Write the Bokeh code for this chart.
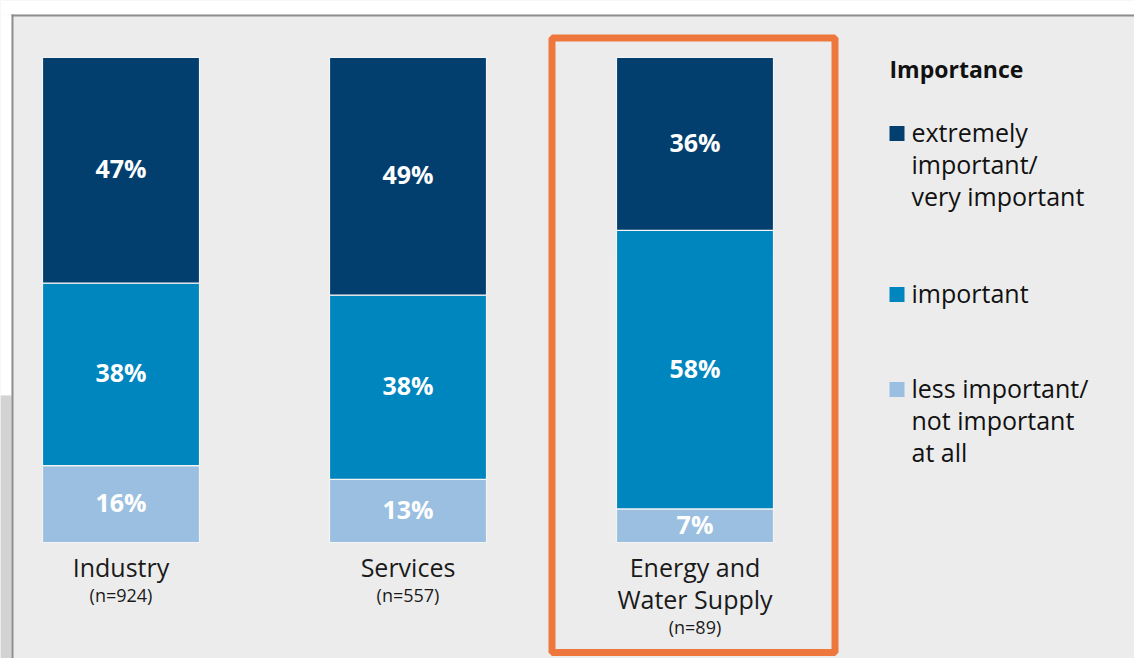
from bokeh.plotting import figure
from bokeh.models import Range1d, ColumnDataSource
from bokeh.core.properties import value
from bokeh.embed import file_html
from bokeh.resources import INLINE

# ---- data ----
categories = ["Industry", "Services", "Energy and\nWater Supply"]
sample_n = [924, 557, 89]
series_names = ["extremely\nimportant/\nvery important", "important", "less important/\nnot important\nat all"]
extremely = [47, 49, 36]
important = [38, 38, 58]
less = [16, 13, 7]
colors = ["#023f6e", "#0086bf", "#9bbfe0"]
highlight_index = 2

FONT = "Open Sans"
BG = "#ececec"

# ---- pixel <-> data helpers (layout only) ----
PX0, PY0, W, H = 0, 0, 1134, 658
X_UNIT = 287.0      # px per category
Y_UNIT = 4.85       # px per percent
X0PX = 120.5        # page px of first category centre
BASEPX = 542.0      # page px of bar baseline
XS = -(X0PX - PX0) / X_UNIT
XE = XS + W / X_UNIT
YE = (BASEPX - PY0) / Y_UNIT
YS = YE - H / Y_UNIT
TXT_SHIFT = 2.0 / Y_UNIT   # nudge texts up by ~2px


def dx(px):
    return XS + (px - PX0) / X_UNIT


def dy(py):
    return (BASEPX - py) / Y_UNIT


p = figure(width=W, height=H, output_backend="svg", toolbar_location=None,
           x_range=Range1d(XS, XE), y_range=Range1d(YS, YE),
           x_axis_type=None, y_axis_type=None, min_border=0)
p.grid.visible = False
p.outline_line_color = None
p.background_fill_color = BG
p.border_fill_color = "white"

# ---- page decorations ----
p.quad(left=[XS], right=[XE], top=[YE], bottom=[dy(14)], fill_color="white", line_color=None)
p.quad(left=[XS], right=[dx(11)], top=[dy(14)], bottom=[dy(395)], fill_color="white", line_color=None)
p.quad(left=[XS], right=[dx(11)], top=[dy(395)], bottom=[YS], fill_color="#d3d3d3", line_color=None)
p.segment(x0=[dx(11)], x1=[XE], y0=[dy(15)], y1=[dy(15)], line_color="#8e8e8e", line_width=2)
p.segment(x0=[dx(12)], x1=[dx(12)], y0=[dy(14)], y1=[YS], line_color="#8e8e8e", line_width=2)

# ---- stacked bars (normalised to 100) ----
xs = list(range(len(categories)))
bar_w = 157 / X_UNIT
order = [less, important, extremely]
order_colors = [colors[2], colors[1], colors[0]]
totals = [a + b + c for a, b, c in zip(extremely, important, less)]
bottoms = [0.0] * len(categories)
for vals, col in zip(order, order_colors):
    heights = [v / t * 100 for v, t in zip(vals, totals)]
    tops = [b + h for b, h in zip(bottoms, heights)]
    src = ColumnDataSource(dict(x=xs, top=tops, bottom=bottoms,
                                mid=[(b + t) / 2 + TXT_SHIFT for b, t in zip(bottoms, tops)],
                                lab=[f"{v}%" for v in vals]))
    p.vbar(x="x", top="top", bottom="bottom", width=bar_w, source=src,
           fill_color=col, line_color="#f4f4f4", line_width=1.2)
    p.text(x="x", y="mid", text="lab", source=src, text_color="white",
           text_font=value(FONT), text_font_style="bold", text_font_size="25px",
           text_align="center", text_baseline="middle")
    bottoms = tops

# ---- category labels ----
LINE1 = 566
LSTEP = 32
for i, (cat, n) in enumerate(zip(categories, sample_n)):
    lines = cat.split("\n")
    ys = [dy(LINE1 + k * LSTEP) for k in range(len(lines))]
    p.text(x=[i] * len(lines), y=ys, text=lines, text_color="#1a1a1a",
           text_font=value(FONT), text_font_size="25px",
           text_align="center", text_baseline="middle")
    p.text(x=[i], y=[dy(LINE1 + (len(lines) - 1) * LSTEP + 28)], text=[f"(n={n})"],
           text_color="#1a1a1a", text_font=value(FONT), text_font_size="18px",
           text_align="center", text_baseline="middle")

# ---- highlight frame ----
p.quad(left=[dx(551.5)], right=[dx(834.5)],
       top=[dy(37.5)], bottom=[dy(652)], fill_color=None,
       line_color="#ee773d", line_width=7)

# ---- legend ----
p.text(x=[dx(889)], y=[dy(68)], text=["Importance"], text_color="#111111",
       text_font=value(FONT), text_font_style="bold", text_font_size="23px",
       text_align="left", text_baseline="middle")
item_tops = [131, 292, 387]
for name, col, ty in zip(series_names, colors, item_tops):
    p.scatter(x=[dx(896.5)], y=[dy(ty + 2)], marker="square", size=15,
              fill_color=col, line_color=None)
    lines = name.split("\n")
    p.text(x=[dx(911)] * len(lines), y=[dy(ty + k * 32) for k in range(len(lines))],
           text=lines, text_color="#111111", text_font=value(FONT),
           text_font_size="25px", text_align="left", text_baseline="middle")

open("out.html", "w").write(file_html(p, INLINE))
